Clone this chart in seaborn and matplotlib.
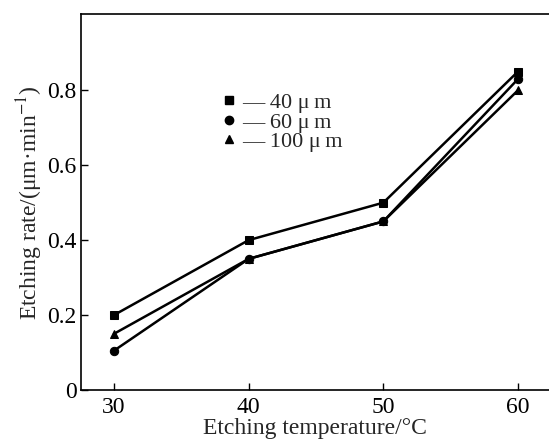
import matplotlib
matplotlib.use("Agg")
import matplotlib.pyplot as plt
import seaborn as sns
import pandas as pd
from matplotlib.lines import Line2D

temperature = [30, 40, 50, 60]
rate_40 = [0.20, 0.40, 0.50, 0.85]
rate_60 = [0.105, 0.35, 0.45, 0.83]
rate_100 = [0.15, 0.35, 0.45, 0.80]
series_labels = ["40 μ\u2009m", "60 μ\u2009m", "100 μ\u2009m"]
y_ticks = [0, 0.2, 0.4, 0.6, 0.8]
y_ticklabels = ["0", "0.2", "0.4", "0.6", "0.8"]

rows = []
for lab, vals in zip(series_labels, [rate_40, rate_60, rate_100]):
    for t, v in zip(temperature, vals):
        rows.append({"T": t, "rate": v, "size": lab})
df = pd.DataFrame(rows)

sns.set_style("ticks")
plt.rcParams['font.family'] = ['Liberation Serif', 'DejaVu Serif']
plt.rcParams['mathtext.fontset'] = 'stix'

fig = plt.figure(figsize=(5.49, 4.43), dpi=100)
ax = fig.add_axes([0.1475, 0.1196, 0.8525, 0.8484])

markers = dict(zip(series_labels, ["s", "o", "^"]))
sns.lineplot(data=df, x="T", y="rate", style="size", markers=markers, dashes=False,
             color="black", linewidth=1.8, markersize=6, markeredgecolor="black",
             legend=False, ax=ax)

ax.set_xlim(27.55, 62.3)
ax.set_ylim(0, 1.003)
ax.set_xticks(temperature)
ax.set_yticks(y_ticks)
ax.set_yticklabels(y_ticklabels)
ax.tick_params(direction="in", labelsize=17, length=5, width=1, colors="black", pad=3)
ax.tick_params(axis="x", pad=5)
for s in ["left", "bottom", "top"]:
    ax.spines[s].set_linewidth(1.2)
    ax.spines[s].set_color("black")
ax.spines["right"].set_visible(False)

ax.set_xlabel("Etching temperature/°C", fontsize=17, labelpad=0)
ax.set_ylabel("Etching rate/(μm·min$^{-1}$)", fontsize=17, labelpad=2)

handles = [Line2D([], [], color="black", marker=markers[l], linestyle="none", markersize=6)
           for l in series_labels]
labels = ["— " + l for l in series_labels]
ax.legend(handles, labels, loc="upper left", bbox_to_anchor=(0.283, 0.815), frameon=False,
          fontsize=16, handlelength=0.6, handletextpad=0.3, labelspacing=-0.05,
          borderaxespad=0)

fig.savefig("out.png", dpi=100)
